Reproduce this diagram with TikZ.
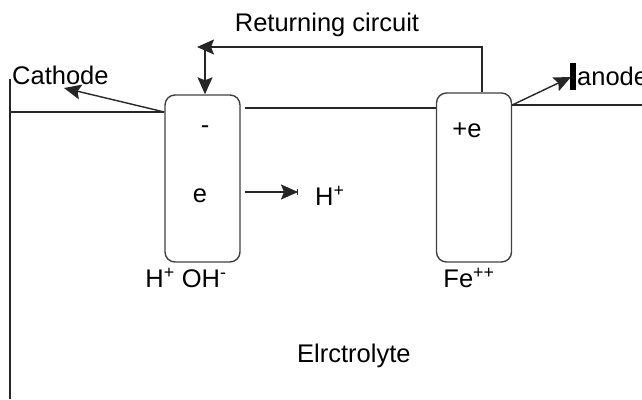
\documentclass[tikz,border=0pt]{standalone}
\usepackage{fontspec}
\setmainfont{Liberation Sans}
\usetikzlibrary{arrows.meta}
\begin{document}
\begin{tikzpicture}[x=1pt,y=-1pt,
  box/.style={draw=black!75,line width=1.4pt,rounded corners=10pt,minimum width=75pt,inner sep=0pt},
  ln/.style={draw=black!85,line width=1.4pt},
  arr/.style={ln,-{Stealth[length=17pt,width=15pt,inset=3pt]}},
  lbl/.style={inner sep=0pt,font=\fontsize{25.5}{30}\selectfont}]
\useasboundingbox (0,0) rectangle (642,399);
% electrodes
\node[box,minimum height=167pt] (cath) at (202.5,178.5) {};
\node[box,minimum height=169pt] (an) at (474,177.5) {};
% wires
\coordinate (lt) at (10,79);
\coordinate (lb) at (10,399);
\draw[ln] (lt) -- (lb);
\coordinate (l1) at (10,112);
\draw[ln] (l1) -- (l1 -| cath.west);
\coordinate (m1) at (245,108);
\draw[ln] (m1) -- (m1 -| an.west);
\coordinate (r1) at (642,105);
\draw[ln] (r1) -- (r1 -| an.east);
% returning circuit
\coordinate (rc1) at (482,47);
\coordinate (rc2) at (197,47);
\coordinate (rv) at (205,47);
\draw[arr] (rc1 |- an.north) -- (rc1) -- (rc2);
\draw[arr] (rv) -- (rv |- cath.north);
\node[lbl] (rctext) at (327,25) {Returning circuit};
% cathode
\node[lbl,anchor=base west] (cathtext) at (12,84) {Cathode};
\coordinate (ct) at (64,88);
\draw[arr] (cath.west |- 0,112) -- (ct);
% anode
\node[lbl,anchor=base west] (antext) at (577,85) {anode};
\node[fill=black,minimum width=6pt,minimum height=27pt,inner sep=0pt] (bar) at (573,76.5) {};
\coordinate (at) at (571,77);
\draw[arr] (an.east |- 0,105) -- (at);
% labels inside
\node[lbl] (minus) at (205,130) {-};
\node[lbl] (e1) at (200,196) {e};
\node[lbl] (pe) at (467,130) {+e};
% H+ arrow
\coordinate (ha) at (245,192);
\node[lbl,anchor=west] (hplus) at (315,196) {H\textsuperscript{+}};
\draw[arr] (ha) -- (298,192);
\draw[ln,line width=0.8pt] (297,189) -- (297,195);
% bottom labels
\node[lbl] (hoh) at (186,278) {H\textsuperscript{+} OH\textsuperscript{-}};
\node[lbl] (fe) at (469,278) {Fe\textsuperscript{++}};
\node[lbl,anchor=west] (el) at (297,356) {Elrctrolyte};
\end{tikzpicture}
\end{document}
